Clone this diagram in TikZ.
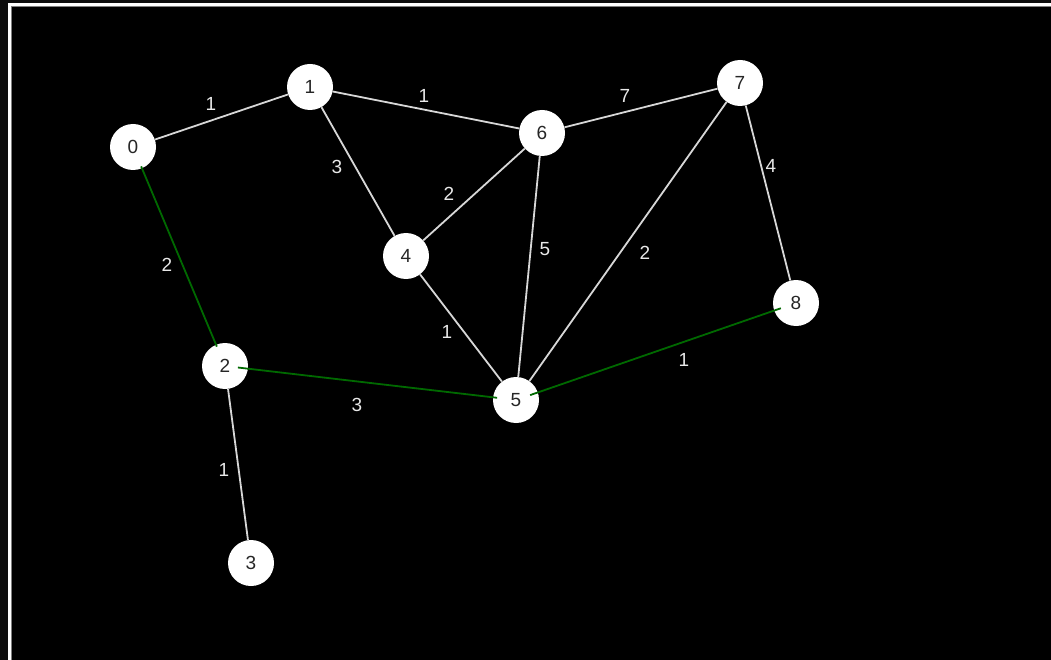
\documentclass[tikz,border=0pt]{standalone}
\usepackage{fontspec}
\setmainfont{Liberation Sans}
\definecolor{edgegray}{RGB}{215,215,215}
\definecolor{labelgray}{RGB}{232,232,232}
\definecolor{mstgreen}{RGB}{0,105,0}
\definecolor{outerdark}{RGB}{12,12,12}
\tikzstyle{vertex} = [circle, minimum size=46pt, inner sep=0pt, fill=white, text=black!85, font=\fontsize{19}{19}\selectfont]
\tikzstyle{weight} = [inner sep=0pt, text=labelgray, font=\fontsize{19}{19}\selectfont]
\tikzstyle{edge} = [draw=edgegray, line width=1.8pt]
\tikzstyle{mst} = [draw=mstgreen, line width=1.8pt]

\begin{document}
\begin{tikzpicture}[x=1pt, y=-1pt]
\useasboundingbox (0,0) rectangle (1051,660);
\fill[outerdark] (0,0) rectangle (1051,660);
\fill[black] (11,6) rectangle (1051,660);
\draw[white, line width=3pt] (9.5,660) -- (9.5,4.5) -- (1051,4.5);
\draw[gray, line width=1pt] (11.5,660) -- (11.5,6.5) -- (1051,6.5);

\node (v0) [vertex] at (133,147) {0};
\node (v1) [vertex] at (310,87) {1};
\node (v2) [vertex] at (225,366) {2};
\node (v3) [vertex] at (251,563) {3};
\node (v4) [vertex] at (406,256) {4};
\node (v5) [vertex] at (516,400) {5};
\node (v6) [vertex] at (542,133) {6};
\node (v7) [vertex] at (740,83) {7};
\node (v8) [vertex] at (796,303) {8};

\node (w01) [weight] at (211,104) {1};
\node (w16) [weight] at (424,96) {1};
\node (w67) [weight] at (625,96) {7};
\node (w14) [weight] at (337,167) {3};
\node (w46) [weight] at (449,194) {2};
\node (w56) [weight] at (545,249) {5};
\node (w57) [weight] at (645,253) {2};
\node (w78) [weight] at (771,166) {4};
\node (w02) [weight] at (167,265) {2};
\node (w45) [weight] at (447,332) {1};
\node (w25) [weight] at (357,405) {3};
\node (w58) [weight] at (684,360) {1};
\node (w23) [weight] at (224,470) {1};

%%% drawing %%%%%%%%%%%%%%%%%%%%%%%
\draw [edge] (v0) -- (v1);
\draw [edge] (v1) -- (v6);
\draw [edge] (v6) -- (v7);
\draw [edge] (v1) -- (v4);
\draw [edge] (v4) -- (v6);
\draw [edge] (v6) -- (v5);
\draw [edge] (v7) -- (v5);
\draw [edge] (v7) -- (v8);
\draw [edge] (v4) -- (v5);
\draw [edge] (v2) -- (v3);
\draw [mst, shorten <=21pt, shorten >=21pt] (v0.center) -- (v2.center);
\draw [mst, shorten <=13pt, shorten >=19pt] (v2.center) -- (v5.center);
\draw [mst, shorten <=15pt, shorten >=16pt] (v5.center) -- (v8.center);
\end{tikzpicture}
\end{document}
